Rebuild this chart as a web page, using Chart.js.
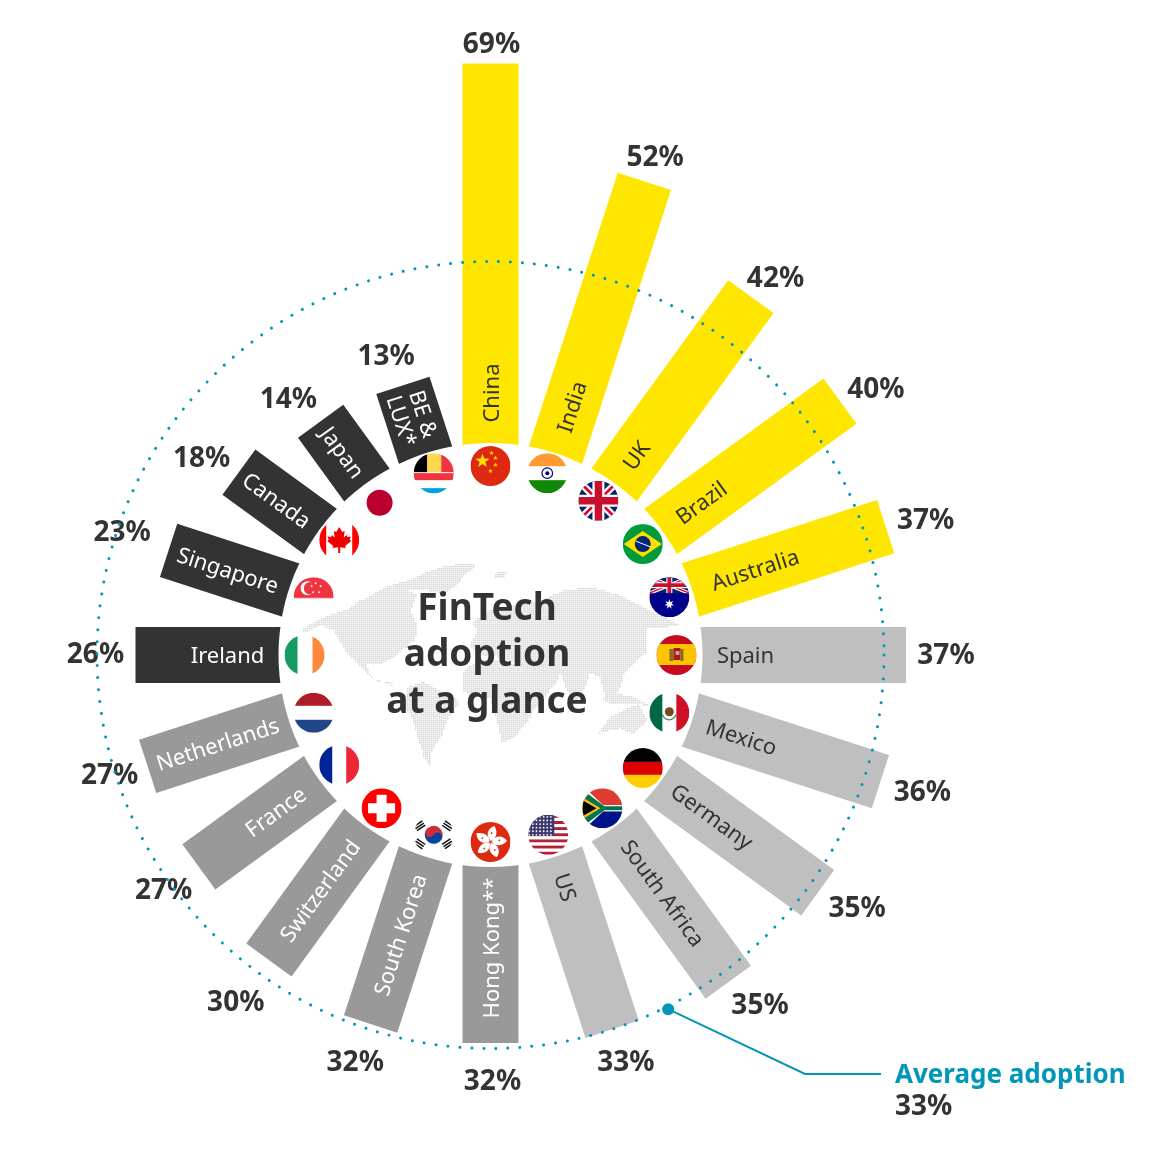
<!DOCTYPE html>
<html><head><meta charset="utf-8">
<style>html,body{margin:0;padding:0;background:#fff;overflow:hidden}canvas{display:block}</style>
<script src="https://cdn.jsdelivr.net/npm/chart.js@4"></script>
</head><body><canvas id="c" width="1150" height="1150"></canvas>
<script>
const categories=['China','India','UK','Brazil','Australia','Spain','Mexico','Germany','South Africa','US','Hong Kong**','South Korea','Switzerland','France','Netherlands','Ireland','Singapore','Canada','Japan','BE &\nLUX*'];
const adoption=[69,52,42,40,37,37,36,35,35,33,32,32,30,27,27,26,23,18,14,13];
const averageAdoption=33;
const averageLabel='Average adoption';
const titleLines=['FinTech','adoption','at a glance'];
const barColors=[...Array(5).fill('#FFE600'),...Array(5).fill('#BFBFBF'),...Array(5).fill('#999999'),...Array(5).fill('#333333')];
const nameColors=[...Array(10).fill('#333333'),...Array(10).fill('#FFFFFF')];
const valueGaps=[22,28,30,37,41,40,42,40,37,35,37,40,53,41,39,40,51,40,38,35];
const valueNudges=[[1,4],[2,3],[7,7],[6,11],[1,7],[0,1],[2,-2],[7,-7],[10,-6],[3,1],[2,2],[-3,1],[-2,0],[-2,0],[-1,-2],[0,0],[2,-2],[-5,10],[-10,10],[-6,5]];
const flagNudges=[[0,-2],[-1,-4],[-2,-3],[1,-1],[1,0],[-1,0],[1,0],[1,3],[2,2],[0,2],[0,0],[1,2],[1,2],[0,0],[1,0],[1,0],[1,0],[0,-5],[-1,-1],[1,-4]];
const nameRadii=[262,261,247,260,278,255,264,274,294,244,293,294,291,266,287,263,276,264,251,250];
const INK='#333333',TEAL='#0097B8';
const PCT_FONT='700 28px "Noto Sans"',NAME_FONT='400 22px "Noto Sans"',TITLE_FONT='700 37px "Noto Sans"',CALL_FONT='700 26px "Noto Sans"';

function poly(c,p){c.beginPath();p.forEach((q,i)=>i?c.lineTo(q[0],q[1]):c.moveTo(q[0],q[1]));c.closePath();}
function rect(c,col,x,y,w,h){c.fillStyle=col;c.fillRect(x,y,w,h);}
function star(c,x,y,r,col,n=5,rot=-Math.PI/2,ir=0.4){c.fillStyle=col;c.beginPath();for(let i=0;i<2*n;i++){const a=rot+i*Math.PI/n,R=i%2?r*ir:r;const X=x+R*Math.cos(a),Y=y+R*Math.sin(a);i?c.lineTo(X,Y):c.moveTo(X,Y);}c.closePath();c.fill();}
function line(c,col,w,x1,y1,x2,y2){c.lineCap='butt';c.strokeStyle=col;c.lineWidth=w;c.beginPath();c.moveTo(x1,y1);c.lineTo(x2,y2);c.stroke();}
function disc(c,x,y,r,col){c.fillStyle=col;c.beginPath();c.arc(x,y,r,0,7);c.fill();}
function jack(c,x0,y0,w,h,t){
  rect(c,'#012169',x0,y0,w,h);
  c.save();c.beginPath();c.rect(x0,y0,w,h);c.clip();
  line(c,'#fff',t*.6,x0,y0,x0+w,y0+h);line(c,'#fff',t*.6,x0+w,y0,x0,y0+h);
  line(c,'#E4002B',t*.22,x0,y0,x0+w,y0+h);line(c,'#E4002B',t*.22,x0+w,y0,x0,y0+h);
  line(c,'#fff',t,x0+w/2,y0,x0+w/2,y0+h);line(c,'#fff',t,x0,y0+h/2,x0+w,y0+h/2);
  line(c,'#C8102E',t*.62,x0+w/2,y0,x0+w/2,y0+h);line(c,'#C8102E',t*.62,x0,y0+h/2,x0+w,y0+h/2);
  c.restore();
}
const flags=[
c=>{rect(c,'#DE2910',-20,-20,40,40);star(c,-8,-5,7.5,'#FFDE00');star(c,1,-13,2.6,'#FFDE00');star(c,5,-8,2.6,'#FFDE00');star(c,5,-1,2.6,'#FFDE00');star(c,0,5,2.6,'#FFDE00');},
c=>{rect(c,'#FF9933',-20,-20,40,13);rect(c,'#138808',-20,7,40,13);c.strokeStyle='#000080';c.lineWidth=1.2;c.beginPath();c.arc(0,0,5.3,0,7);c.stroke();disc(c,0,0,2,'#000080');},
c=>{jack(c,-20,-20,40,40,12);},
c=>{rect(c,'#009B3A',-20,-20,40,40);c.fillStyle='#FEDF00';poly(c,[[-19,0],[0,-13],[19,0],[0,13]]);c.fill();disc(c,0,0,8,'#002776');line(c,'#fff',1,-7,-3,8,3);},
c=>{rect(c,'#00008B',-20,-20,40,40);jack(c,-20,-20,40,16,6);star(c,0,7,5,'#fff',7,-Math.PI/2,.45);},
c=>{rect(c,'#C60B1E',-20,-20,40,40);rect(c,'#FFC400',-20,-11,40,21);rect(c,'#AD1519',-3,-7,7,12);rect(c,'#8a6a2a',-7,-6,4,12);rect(c,'#8a6a2a',4,-6,3,12);rect(c,'#c9a0a0',-1,-4,4,4);},
c=>{rect(c,'#006847',-20,-20,13,40);rect(c,'#CE1126',7,-20,13,40);disc(c,0,-1,4.5,'#7A4A22');c.strokeStyle='#3f8f5b';c.lineWidth=1.2;c.beginPath();c.arc(0,0,7,.2,2.9);c.stroke();},
c=>{rect(c,'#000',-20,-20,40,14);rect(c,'#DD0000',-20,-6,40,13);rect(c,'#FFCE00',-20,7,40,13);},
c=>{rect(c,'#fff',-20,-20,40,40);rect(c,'#E03C31',-20,-20,40,17);rect(c,'#001489',-20,3,40,17);
   c.fillStyle='#fff';poly(c,[[-20,-17],[-14,-17],[1,-3],[20,-3],[20,3],[1,3],[-14,17],[-20,17]]);c.fill();
   c.fillStyle='#007749';poly(c,[[-20,-14],[-14,-14],[2,-2],[20,-2],[20,2],[2,2],[-14,14],[-20,14]]);c.fill();
   c.fillStyle='#FFB81C';poly(c,[[-20,-11],[-2,0],[-20,11]]);c.fill();c.fillStyle='#000';poly(c,[[-20,-8],[-6,0],[-20,8]]);c.fill();},
c=>{for(let i=0;i<13;i++)rect(c,i%2?'#fff':'#B22234',-20,-20+i*40/13,40,40/13);
   rect(c,'#3C3B6E',-20,-20,26,21);for(let y=-18;y<1;y+=3.6)for(let x=-19;x<6;x+=3.6)disc(c,x,y,.9,'#fff');},
c=>{rect(c,'#DE2910',-20,-20,40,40);for(let i=0;i<5;i++){c.save();c.rotate(i*2*Math.PI/5+.25);c.fillStyle='#fff';c.beginPath();c.moveTo(0,-1);c.bezierCurveTo(-7,-5,-6,-13,0,-16.5);c.bezierCurveTo(5,-11,5,-5,0,-1);c.fill();disc(c,-1,-9,.9,'#DE2910');c.restore();}},
c=>{c.save();c.rotate(.5);c.fillStyle='#CD2E3A';c.beginPath();c.arc(0,0,9,Math.PI,0);c.fill();c.fillStyle='#0047A0';c.beginPath();c.arc(0,0,9,0,Math.PI);c.fill();disc(c,-4.5,0,4.5,'#CD2E3A');disc(c,4.5,0,4.5,'#0047A0');c.restore();
   [[-14,-9,.98],[14,-9,-.98],[-14,9,-.98],[14,9,.98]].forEach(t=>{c.save();c.translate(t[0],t[1]);c.rotate(t[2]+Math.PI/2);for(let i=-1;i<2;i++)rect(c,'#111',-5,i*2.6-.7,10,1.5);c.restore();});},
c=>{rect(c,'#FF0000',-20,-20,40,40);rect(c,'#fff',-13.5,-5,27,10);rect(c,'#fff',-5,-13.5,10,27);},
c=>{rect(c,'#002395',-20,-20,13,40);rect(c,'#ED2939',7,-20,13,40);},
c=>{rect(c,'#AE1C28',-20,-20,40,13);rect(c,'#21468B',-20,7,40,13);},
c=>{rect(c,'#169B62',-20,-20,13,40);rect(c,'#FF883E',8,-20,13,40);},
c=>{rect(c,'#EF3340',-20,-20,40,20);rect(c,'#EF3340',-20,0,40,1);disc(c,-6,-9,7,'#fff');disc(c,-3.5,-9,6.3,'#EF3340');[[2,-14],[7,-11],[5.5,-5],[-.5,-5],[-2,-11]].forEach(p=>star(c,p[0],p[1],1.6,'#fff'));},
c=>{rect(c,'#F00',-20,-20,7,40);rect(c,'#F00',13,-20,7,40);c.fillStyle='#E00';poly(c,[[0,-13],[3,-8],[5.5,-9],[4.5,-2.5],[7.5,-5],[8,-3],[11.5,-3.5],[10.5,0],[12,1],[6,6],[6.5,8],[1,7.2],[1,13],[-1,13],[-1,7.2],[-6.5,8],[-6,6],[-12,1],[-10.5,0],[-11.5,-3.5],[-8,-3],[-7.5,-5],[-4.5,-2.5],[-5.5,-9],[-3,-8]]);c.fill();},
c=>{disc(c,0,0,13,'#BC002D');},
c=>{rect(c,'#000',-20,-20,13.5,20);rect(c,'#FBD94A',-6.5,-20,14,20);rect(c,'#EF3340',7.5,-20,13,20);rect(c,'#fff',-20,-1,40,1);rect(c,'#EF3340',-20,0,40,7);rect(c,'#00A1DE',-20,15,40,6);}
];
const land=[
[[0,240],[40,215],[85,195],[140,178],[180,150],[240,125],[300,110],[350,135],[330,180],[350,225],[345,270],[310,295],[275,325],[240,340],[200,340],[205,368],[235,395],[270,395],[285,408],[258,400],[215,380],[180,350],[135,300],[100,240],[60,225],[20,245]],
[[210,135],[270,105],[340,85],[380,65],[440,45],[520,40],[525,52],[490,75],[470,105],[430,130],[380,120],[320,120],[270,125]],
[[320,412],[370,395],[420,420],[470,445],[475,465],[445,500],[425,555],[395,600],[390,648],[372,625],[352,560],[335,500],[310,470]],
[[515,215],[570,180],[640,165],[720,150],[790,120],[870,110],[960,135],[1040,175],[1140,225],[1085,232],[1040,235],[1030,270],[1040,305],[1000,340],[970,370],[960,410],[935,450],[915,440],[900,380],[870,370],[850,420],[825,465],[800,420],[780,365],[770,400],[720,445],[680,400],[660,345],[600,320],[540,315],[510,285],[530,240]],
[[485,370],[530,330],[600,328],[660,345],[695,420],[745,425],[700,480],[680,520],[640,560],[605,578],[590,510],[570,445],[490,425]],
[[895,548],[930,500],[990,470],[1015,462],[1042,510],[1000,552],[960,535]],
[[905,445],[950,430],[1000,440],[1050,465],[1000,462],[930,462]],
[[580,70],[620,62],[610,85],[585,85]],[[1005,235],[1040,235],[1040,290],[1015,300]]
];
let mapCanvas=null;
function buildMap(){
  const S=1/3,OX=300,OY=550;
  const m=document.createElement('canvas');m.width=1150;m.height=1150;
  const g=m.getContext('2d',{willReadFrequently:true});
  g.fillStyle='#000';
  land.forEach(p=>{poly(g,p.map(q=>[OX+q[0]*S,OY+q[1]*S]));g.fill();});
  const d=g.getImageData(0,0,1150,1150).data;
  const o=document.createElement('canvas');o.width=1150;o.height=1150;
  const h=o.getContext('2d');h.fillStyle='#D8D8D8';
  for(let y=550;y<790;y+=2)for(let x=295;x<690;x+=2){
    if(d[(y*1150+x)*4+3]>128)h.fillRect(x,y,1.5,1.5);
  }
  mapCanvas=o;
}
const radialArt={id:'radialArt',
 beforeDraw(ch){ch.ctx.lineCap='round';},
 beforeDatasetsDraw(ch){
  const c=ch.ctx,s=ch.scales.r,meta=ch.getDatasetMeta(0);
  c.save();
  adoption.forEach((v,i)=>{
    const a=s.getPointPositionForValue(i,-6),b=meta.data[i];
    c.strokeStyle=barColors[i];c.lineWidth=56;c.lineCap='butt';
    c.beginPath();c.moveTo(a.x,a.y);c.lineTo(b.x,b.y);c.stroke();
  });
  disc(c,s.xCenter,s.yCenter,s.getDistanceFromCenterForValue(0),'#fff');
  if(!mapCanvas)buildMap();
  c.drawImage(mapCanvas,0,0);
  adoption.forEach((v,i)=>{
    const p=s.getPointPositionForValue(i,-4.55);
    c.save();c.translate(p.x+flagNudges[i][0],p.y+flagNudges[i][1]);c.beginPath();c.arc(0,0,20,0,7);c.clip();flags[i](c);c.restore();
  });
  c.restore();
 },
 afterDatasetsDraw(ch){
  const c=ch.ctx,s=ch.scales.r,k=s.drawingArea/(s.max-s.min);
  c.save();c.lineCap='butt';c.textBaseline='middle';
  categories.forEach((n,i)=>{
    const p=s.getPointPositionForValue(i,nameRadii[i]/k+s.min);
    const ang=i*18-90;
    c.save();c.translate(p.x,p.y);c.rotate((i<10?ang:ang+180)*Math.PI/180);
    c.fillStyle=nameColors[i];c.font=NAME_FONT;c.textAlign='center';
    const ls=n.split('\n');ls.forEach((t,j)=>c.fillText(t,0,2+(j-(ls.length-1)/2)*23));
    c.restore();
  });
  adoption.forEach((v,i)=>{
    const p=s.getPointPositionForValue(i,v+valueGaps[i]/k);
    c.fillStyle=INK;c.font=PCT_FONT;c.textAlign='center';c.fillText(v+'%',p.x+valueNudges[i][0],p.y+valueNudges[i][1]);
  });
  c.font=TITLE_FONT;c.fillStyle=INK;c.textAlign='center';
  titleLines.forEach((t,i)=>c.fillText(t,487,609+i*46.5));
  const m=s.getPointPositionForValue(8.52,averageAdoption+.5);
  disc(c,m.x,m.y,6,TEAL);
  c.strokeStyle=TEAL;c.lineWidth=2;c.beginPath();c.moveTo(m.x,m.y);c.lineTo(805,1074);c.lineTo(881,1074);c.stroke();
  c.textAlign='left';c.font=CALL_FONT;c.fillStyle=TEAL;c.fillText(averageLabel,895,1076);
  c.font=PCT_FONT;c.fillStyle=INK;c.fillText(averageAdoption+'%',895,1107);
  c.restore();
 }};
new Chart(document.getElementById('c'),{
 type:'radar',plugins:[radialArt],
 data:{labels:categories,datasets:[{label:'FinTech adoption',data:adoption,showLine:false,pointRadius:0,pointHoverRadius:0,borderWidth:0,backgroundColor:'transparent',clip:false}]},
 options:{responsive:false,animation:false,events:[],
  plugins:{legend:{display:false},title:{display:false},tooltip:{enabled:false}},
  scales:{r:{min:-38.55,max:80.55,
    afterFit(s){s.xCenter=490.5;s.yCenter=655;s.drawingArea=655;},
    afterBuildTicks(a){a.ticks=[{value:averageAdoption}];},
    ticks:{display:false},pointLabels:{display:false},angleLines:{display:false},
    grid:{circular:true,color:TEAL,lineWidth:3,z:1},border:{dash:[0.01,12]}}}}
});
</script></body></html>
